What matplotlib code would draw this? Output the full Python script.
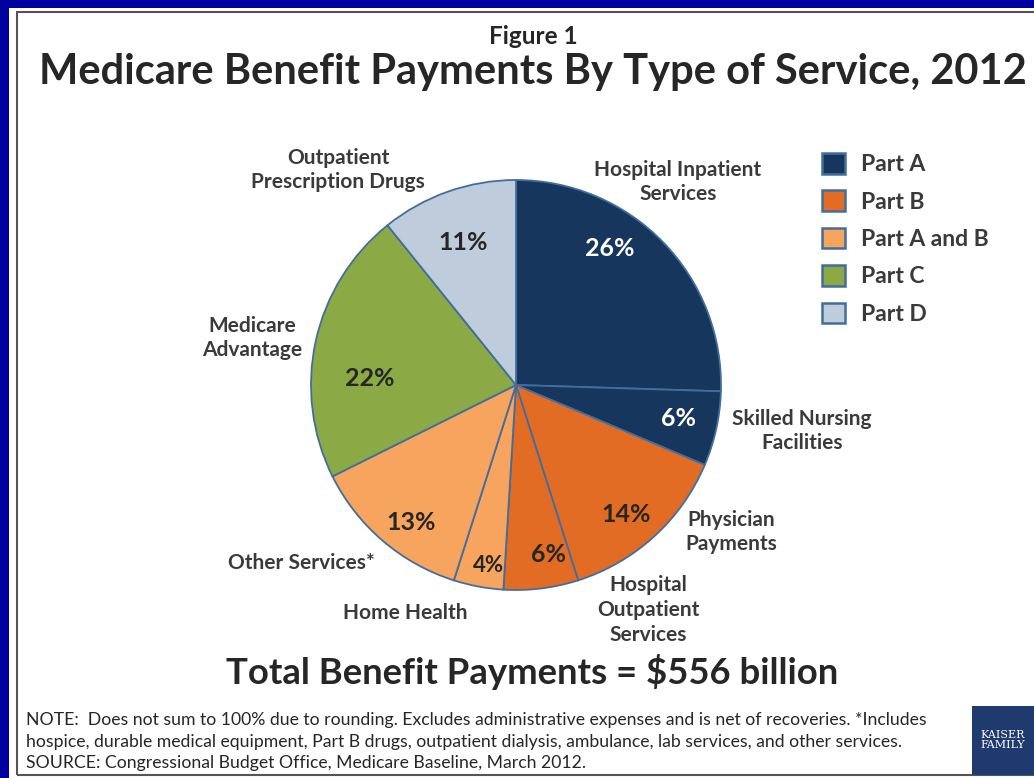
import matplotlib
matplotlib.use("Agg")
import matplotlib.pyplot as plt
from matplotlib.patches import Rectangle, Patch

# ---------------- data ----------------
services = ["Hospital Inpatient\nServices", "Skilled Nursing\nFacilities", "Physician\nPayments",
            "Hospital\nOutpatient\nServices", "Home Health", "Other Services*",
            "Medicare\nAdvantage", "Outpatient\nPrescription Drugs"]
shares = [26, 6, 14, 6, 4, 13, 22, 11]
parts = ["Part A", "Part A", "Part B", "Part B", "Part A and B", "Part A and B", "Part C", "Part D"]
part_names = ["Part A", "Part B", "Part A and B", "Part C", "Part D"]
part_colors = {"Part A": "#17365D", "Part B": "#E36C24", "Part A and B": "#F6A45E",
               "Part C": "#8BAA45", "Part D": "#BFCCDB"}
pct_text_colors = ["white", "white", "#262626", "#262626", "#262626", "#262626", "#262626", "#262626"]

title = "Medicare Benefit Payments By Type of Service, 2012"
figure_label = "Figure 1"
total_text = "Total Benefit Payments = $556 billion"
note_lines = [
    "NOTE:  Does not sum to 100% due to rounding. Excludes administrative expenses and is net of recoveries. *Includes",
    "hospice, durable medical equipment, Part B drugs, outpatient dialysis, ambulance, lab services, and other services.",
    "SOURCE: Congressional Budget Office, Medicare Baseline, March 2012.",
]

# ---------------- layout ----------------
W, H = 1034, 778
fig = plt.figure(figsize=(W / 100, H / 100), dpi=100)
fig.patch.set_facecolor("#0000A0")
FONT = "Lato"
TXT = "#262626"


def fx(x):
    return x / W


def fy(y):
    return 1 - y / H


# white panel + frame
fig.patches.append(Rectangle((fx(9), 0), 1, fy(8), transform=fig.transFigure,
                             facecolor="white", edgecolor="none", zorder=-2))
fig.patches.append(Rectangle((fx(17), fy(775)), 1, fy(12) - fy(775), transform=fig.transFigure,
                             facecolor="none", edgecolor="#555555", linewidth=1.5, zorder=-1))

# pie
cx, cy, r = 516, 385, 205
ax = fig.add_axes([fx(cx - r), fy(cy + r), 2 * r / W, 2 * r / H])
ax.set_zorder(5)
colors = [part_colors[p] for p in parts]
wedges, _ = ax.pie(shares, colors=colors, startangle=90, counterclock=False, radius=1,
                   wedgeprops=dict(edgecolor="#426E9E", linewidth=1.3))
ax.set_xlim(-1, 1)
ax.set_ylim(-1, 1)
ax.set_aspect("auto")
ax.axis("off")

# percentage labels (pixel positions)
pct_pos = [(610, 248), (678, 418), (626, 515), (548, 555), (489, 565), (411, 522), (370, 378), (463, 242)]
pct_sizes = [18, 18, 18, 18, 16, 18, 18, 18]
for v, (px, py), c, fs in zip(shares, pct_pos, pct_text_colors, pct_sizes):
    fig.text(fx(px), fy(py), f"{v}%", ha="center", va="center", fontsize=fs, fontweight="bold",
             color=c, family=FONT, zorder=10)

# category labels
lab_pos = [(678, 182), (802, 431), (731, 532), (648, 610), (405, 613), (301, 563), (252, 338), (338, 170)]
for s, (px, py) in zip(services, lab_pos):
    fig.text(fx(px), fy(py), s, ha="center", va="center", fontsize=15, fontweight="bold",
             color="#3a3a3a", family=FONT, linespacing=1.3)

# legend
handles = [Patch(facecolor=part_colors[p], edgecolor="#426E9E", linewidth=1.8, label=p) for p in part_names]
leg = fig.legend(handles=handles, loc="upper left", bbox_to_anchor=(fx(822), fy(153)), frameon=False,
                 prop=dict(family=FONT, weight="bold", size=16.5), handlelength=1.0, handleheight=1.0,
                 labelspacing=0.67, handletextpad=0.72, borderpad=0, borderaxespad=0,
                 labelcolor="#3a3a3a")

# titles
fig.text(fx(533), fy(37), figure_label, ha="center", va="center", fontsize=17.5, fontweight="bold",
         color=TXT, family=FONT)
fig.text(fx(533), fy(72), title, ha="center", va="center", fontsize=30, fontweight="bold",
         color=TXT, family=FONT)
fig.text(fx(532), fy(672), total_text, ha="center", va="center", fontsize=26.3, fontweight="bold",
         color=TXT, family=FONT)

for i, line in enumerate(note_lines):
    fig.text(fx(26), fy(720 + 21.5 * i), line, ha="left", va="center", fontsize=12.7,
             color="#262626", family=FONT)

# logo block
fig.patches.append(Rectangle((fx(972), fy(775)), fx(62), fy(706) - fy(775), transform=fig.transFigure,
                             facecolor="#1F3A6E", edgecolor="none", zorder=2))
fig.text(fx(1003), fy(740), "KAISER\nFAMILY", ha="center", va="center", fontsize=8, color="white",
         family="DejaVu Serif", linespacing=1.1, zorder=3)

fig.savefig("out.png", dpi=100, facecolor=fig.get_facecolor())
